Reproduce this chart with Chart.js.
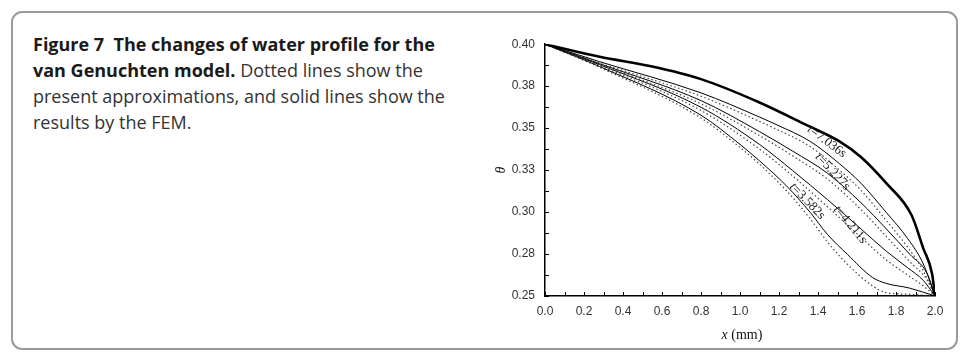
<!DOCTYPE html>
<html>
<head>
<meta charset="utf-8">
<script src="https://cdn.jsdelivr.net/npm/chart.js@4.4.1/dist/chart.umd.min.js"></script>
<style>
  html, body { margin: 0; padding: 0; background: #fff; }
  body { width: 969px; height: 360px; position: relative; overflow: hidden; }
  .card {
    position: absolute; left: 11px; top: 11px; width: 947px; height: 339px;
    box-sizing: border-box; border: 2px solid #9a9a9a; border-radius: 11px;
  }
  .caption {
    position: absolute; left: 33px; top: 31px; white-space: nowrap;
    font-family: "Open Sans", "Noto Sans", sans-serif; font-size: 18px;
    line-height: 26px; color: #333; letter-spacing: 0;
  }
  .caption b { font-weight: 700; color: #1a1a1a; }
  #wrap { position: absolute; left: 460px; top: 27px; width: 495px; height: 323px; }
</style>
</head>
<body>
<div class="card"></div>
<div class="caption"><b>Figure 7&nbsp; The changes of water profile for the</b><br><b>van Genuchten model.</b> Dotted lines show the<br>present approximations, and solid lines show the<br>results by the FEM.</div>
<div id="wrap"><canvas id="chart"></canvas></div>
<script>
// x positions (mm) and water content values
const xSteady = [0, 0.28, 0.55, 0.80, 1.10, 1.34, 1.51, 1.62, 1.75, 1.88, 1.94, 1.985, 2.0];
const thetaSteady = [0.400, 0.3925, 0.3867, 0.3792, 0.3653, 0.3519, 0.3421, 0.3328, 0.3172, 0.2981, 0.2784, 0.2633, 0.250];

const x7036 = [0, 0.28, 0.80, 1.10, 1.19, 1.36, 1.51, 1.62, 1.75, 1.86, 1.94, 2.0];
const fem7036 = [0.400, 0.3896, 0.3710, 0.3566, 0.3519, 0.3421, 0.3288, 0.3172, 0.2998, 0.2842, 0.2691, 0.250];
const approx7036 = [0.400, 0.3888, 0.3690, 0.3540, 0.3492, 0.3390, 0.3250, 0.3130, 0.2950, 0.2790, 0.2650, 0.250];

const x5227 = [0, 0.28, 0.80, 1.10, 1.27, 1.45, 1.62, 1.75, 1.87, 1.96, 2.0];
const fem5227 = [0.400, 0.3884, 0.3664, 0.3479, 0.3363, 0.3230, 0.3056, 0.2900, 0.2749, 0.2633, 0.250];
const approx5227 = [0.400, 0.3879, 0.3645, 0.3455, 0.3335, 0.3195, 0.3015, 0.2855, 0.2705, 0.2595, 0.250];

const x4211 = [0, 0.28, 0.80, 1.10, 1.27, 1.45, 1.62, 1.75, 1.86, 1.94, 2.0];
const fem4211 = [0.400, 0.3878, 0.3624, 0.3403, 0.3247, 0.3073, 0.2900, 0.2767, 0.2668, 0.2593, 0.250];
const approx4211 = [0.400, 0.3872, 0.3605, 0.3375, 0.3215, 0.3030, 0.2850, 0.2715, 0.2625, 0.2560, 0.250];

const x3582 = [0, 0.28, 0.80, 1.00, 1.10, 1.24, 1.36, 1.45, 1.55, 1.68, 1.75, 1.87, 2.0];
const fem3582 = [0.400, 0.3867, 0.3577, 0.3403, 0.3305, 0.3154, 0.2998, 0.2865, 0.2749, 0.2610, 0.2575, 0.2547, 0.250];
const approx3582 = [0.400, 0.3862, 0.3560, 0.3385, 0.3285, 0.3125, 0.2960, 0.2820, 0.2690, 0.2560, 0.2520, 0.2510, 0.250];

const xTickValues = [0, 0.2, 0.4, 0.6, 0.8, 1.0, 1.2, 1.4, 1.6, 1.8, 2.0];
const xTickLabels = ['0.0', '0.2', '0.4', '0.6', '0.8', '1.0', '1.2', '1.4', '1.6', '1.8', '2.0'];
const yTickValues = [0.25, 0.275, 0.30, 0.325, 0.35, 0.375, 0.40];
const yTickLabels = ['0.25', '0.28', '0.30', '0.33', '0.35', '0.38', '0.40'];

// curve labels: text, x, theta, angle (deg)
const curveLabels = [
  ['7.036s', 1.445, 0.3420, 37],
  ['5.227s', 1.475, 0.3240, 47],
  ['4.211s', 1.565, 0.2925, 50],
  ['3.582s', 1.345, 0.3065, 46]
];

function pts(xs, ys) {
  return xs.map((x, i) => ({ x: x, y: ys[i] }));
}

function solid(xs, ys, w) {
  return { data: pts(xs, ys), borderColor: '#000', borderWidth: w, pointRadius: 0,
           cubicInterpolationMode: 'monotone', fill: false };
}
function dotted(xs, ys) {
  return { data: pts(xs, ys), borderColor: '#444', borderWidth: 1.2, borderDash: [1.5, 2.5],
           pointRadius: 0, cubicInterpolationMode: 'monotone', fill: false };
}

// inward tick marks on both axes, plus the x axis title with italic x
const axisExtras = {
  id: 'axisExtras',
  afterDraw(chart) {
    const ctx = chart.ctx, xs = chart.scales.x, ys = chart.scales.y;
    ctx.save();
    ctx.strokeStyle = '#000';
    ctx.lineWidth = 1;
    ctx.beginPath();
    for (let i = 0; i <= 20; i++) {
      const px = Math.round(xs.getPixelForValue(i * 0.1)) + 0.5;
      ctx.moveTo(px, ys.bottom);
      ctx.lineTo(px, ys.bottom - 4);
    }
    for (let i = 0; i <= 12; i++) {
      const py = Math.round(ys.getPixelForValue(0.25 + i * 0.0125)) + 0.5;
      ctx.moveTo(xs.left, py);
      ctx.lineTo(xs.left + 4, py);
    }
    ctx.stroke();

    ctx.fillStyle = '#111';
    ctx.textBaseline = 'middle';
    ctx.font = 'italic 14px "Liberation Serif", serif';
    const w1 = ctx.measureText('x').width;
    ctx.font = '14px "Liberation Serif", serif';
    const w2 = ctx.measureText(' (mm)').width;
    const cx = (xs.left + xs.right) / 2 + 2;
    const cy = ys.bottom + 39;
    ctx.font = 'italic 14px "Liberation Serif", serif';
    ctx.fillText('x', cx - (w1 + w2) / 2, cy);
    ctx.font = '14px "Liberation Serif", serif';
    ctx.fillText(' (mm)', cx - (w1 + w2) / 2 + w1, cy);
    ctx.restore();
  }
};

const timeLabels = {
  id: 'timeLabels',
  afterDatasetsDraw(chart) {
    const ctx = chart.ctx, xs = chart.scales.x, ys = chart.scales.y;
    ctx.save();
    ctx.fillStyle = '#222';
    ctx.textBaseline = 'middle';
    curveLabels.forEach(l => {
      const px = xs.getPixelForValue(l[1]);
      const py = ys.getPixelForValue(l[2]);
      ctx.save();
      ctx.translate(px, py);
      ctx.rotate(l[3] * Math.PI / 180);
      ctx.font = 'italic 13px "Liberation Serif", serif';
      const w1 = ctx.measureText('t').width;
      ctx.font = '13px "Liberation Serif", serif';
      const w2 = ctx.measureText('=' + l[0]).width;
      let sx = -(w1 + w2) / 2;
      ctx.font = 'italic 13px "Liberation Serif", serif';
      ctx.fillText('t', sx, 0);
      ctx.font = '13px "Liberation Serif", serif';
      ctx.fillText('=' + l[0], sx + w1, 0);
      ctx.restore();
    });
    ctx.restore();
  }
};

new Chart(document.getElementById('chart'), {
  type: 'line',
  data: {
    datasets: [
      solid(xSteady, thetaSteady, 2.6),
      solid(x7036, fem7036, 1),
      dotted(x7036, approx7036),
      solid(x5227, fem5227, 1),
      dotted(x5227, approx5227),
      solid(x4211, fem4211, 1),
      dotted(x4211, approx4211),
      solid(x3582, fem3582, 1),
      dotted(x3582, approx3582)
    ]
  },
  options: {
    responsive: true,
    maintainAspectRatio: false,
    animation: false,
    layout: { padding: { top: 10, right: 20, left: 0, bottom: 0 } },
    plugins: { legend: { display: false }, tooltip: { enabled: false } },
    scales: {
      x: {
        type: 'linear', min: 0, max: 2,
        afterFit(scale) { scale.height = 54; },
        afterBuildTicks(scale) { scale.ticks = xTickValues.map(v => ({ value: v })); },
        grid: { drawOnChartArea: false, drawTicks: false },
        border: { display: true, color: '#000', width: 1.5 },
        ticks: {
          padding: 8, color: '#333',
          font: { family: '"Liberation Sans", Arial, sans-serif', size: 12 },
          callback: (v, i) => xTickLabels[i]
        }
      },
      y: {
        type: 'linear', min: 0.25, max: 0.40,
        afterFit(scale) { scale.width = 85; },
        afterBuildTicks(scale) { scale.ticks = yTickValues.map(v => ({ value: v })); },
        grid: { drawOnChartArea: false, drawTicks: false },
        border: { display: true, color: '#000', width: 1.5 },
        ticks: {
          padding: 10, color: '#333',
          font: { family: '"Liberation Sans", Arial, sans-serif', size: 12 },
          callback: (v, i) => yTickLabels[i]
        },
        title: {
          display: true, text: 'θ', color: '#111',
          font: { family: '"Liberation Serif", serif', size: 14, style: 'italic' },
          padding: { top: 33, bottom: 0 }
        }
      }
    }
  },
  plugins: [axisExtras, timeLabels]
});
</script>
</body>
</html>
